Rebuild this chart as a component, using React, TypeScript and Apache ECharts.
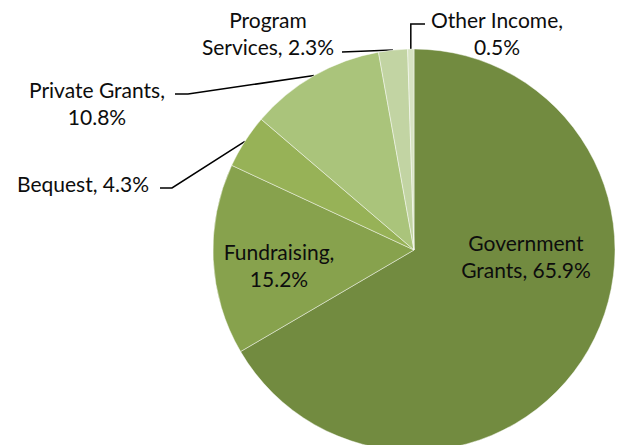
import React, { useEffect, useRef } from "react";
import * as echarts from "echarts";

const categories = ["Government Grants", "Fundraising", "Bequest", "Private Grants", "Program Services", "Other Income"];
const values = [65.9, 15.2, 4.3, 10.8, 2.3, 0.5];
const colors = ["#728B40", "#87A24D", "#97B257", "#AAC47B", "#C2D4A3", "#D7E3C2"];
// how each label wraps: "split" = break name at space, "comma" = break after comma, "none" = one line
const wraps = ["split", "comma", "none", "comma", "split", "comma"];

// label centres and leader-line bends (layout only)
const labelPos: Record<number, { x: number; y: number; line?: (a: number[]) => number[][] }> = {
  0: { x: 526, y: 256 },
  1: { x: 279, y: 265 },
  2: { x: 83, y: 183, line: (a) => [a, [172, 188], [160, 188]] },
  3: { x: 97, y: 103, line: (a) => [a, [188, 94], [175, 94]] },
  4: { x: 268, y: 33, line: (a) => [a, [342, 52]] },
  5: { x: 497, y: 33, line: (a) => [a, [a[0], 24], [425, 24]] },
};

export default function App() {
  const ref = useRef<HTMLDivElement>(null);
  useEffect(() => {
    document.body.style.margin = "0";
    const chart = echarts.init(ref.current!, null, { renderer: "svg" });
    chart.setOption({
      animation: false,
      backgroundColor: "#ffffff",
      series: [
        {
          type: "pie",
          center: [414, 250],
          radius: 201,
          startAngle: 90,
          clockwise: true,
          percentPrecision: 1,
          avoidLabelOverlap: false,
          itemStyle: { borderColor: "rgba(255,255,255,0.45)", borderWidth: 1 },
          label: {
            show: true,
            position: "outside",
            fontFamily: "Lato",
            fontSize: 21,
            lineHeight: 27,
            color: "#0d0d0d",
            align: "center",
            formatter: (p: any) => {
              const v = `${Number(p.value).toFixed(1)}%`;
              const w = wraps[p.dataIndex];
              if (w === "split") return `${p.name.replace(" ", "\n")}, ${v}`;
              if (w === "comma") return `${p.name},\n${v}`;
              return `${p.name}, ${v}`;
            },
          },
          labelLine: { show: true, length: 10, length2: 10, lineStyle: { color: "#000000", width: 1.5 } },
          labelLayout: (params: any) => {
            const pos = labelPos[params.dataIndex];
            const res: any = { x: pos.x, y: pos.y, align: "center", verticalAlign: "middle" };
            if (pos.line && params.labelLinePoints) {
              res.labelLinePoints = pos.line(params.labelLinePoints[0]);
            }
            return res;
          },
          data: categories.map((name, i) => ({
            name,
            value: values[i],
            itemStyle: { color: colors[i] },
            labelLine: { show: i >= 2 },
          })),
        },
      ],
    });
    return () => chart.dispose();
  }, []);
  return <div ref={ref} style={{ width: 620, height: 445 }} />;
}
